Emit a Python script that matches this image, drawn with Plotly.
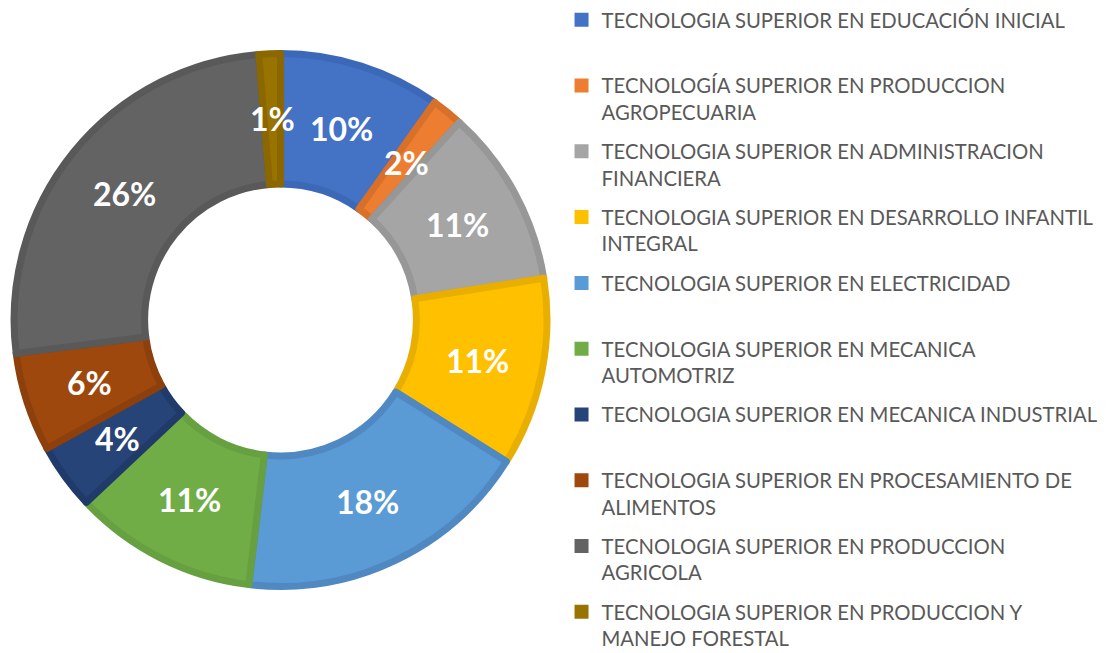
import math
import plotly.graph_objects as go

categories = [
    "TECNOLOGIA SUPERIOR EN EDUCACIÓN INICIAL",
    "TECNOLOGÍA SUPERIOR EN PRODUCCION AGROPECUARIA",
    "TECNOLOGIA SUPERIOR EN ADMINISTRACION FINANCIERA",
    "TECNOLOGIA SUPERIOR EN DESARROLLO INFANTIL INTEGRAL",
    "TECNOLOGIA SUPERIOR EN ELECTRICIDAD",
    "TECNOLOGIA SUPERIOR EN MECANICA AUTOMOTRIZ",
    "TECNOLOGIA SUPERIOR EN MECANICA INDUSTRIAL",
    "TECNOLOGIA SUPERIOR EN PROCESAMIENTO DE ALIMENTOS",
    "TECNOLOGIA SUPERIOR EN PRODUCCION AGRICOLA",
    "TECNOLOGIA SUPERIOR EN PRODUCCION Y MANEJO FORESTAL",
]
legend_names = [
    "TECNOLOGIA SUPERIOR EN EDUCACIÓN INICIAL<br> ",
    "TECNOLOGÍA SUPERIOR EN PRODUCCION<br>AGROPECUARIA",
    "TECNOLOGIA SUPERIOR EN ADMINISTRACION<br>FINANCIERA",
    "TECNOLOGIA SUPERIOR EN DESARROLLO INFANTIL<br>INTEGRAL",
    "TECNOLOGIA SUPERIOR EN ELECTRICIDAD<br> ",
    "TECNOLOGIA SUPERIOR EN MECANICA<br>AUTOMOTRIZ",
    "TECNOLOGIA SUPERIOR EN MECANICA INDUSTRIAL<br> ",
    "TECNOLOGIA SUPERIOR EN PROCESAMIENTO DE<br>ALIMENTOS",
    "TECNOLOGIA SUPERIOR EN PRODUCCION<br>AGRICOLA",
    "TECNOLOGIA SUPERIOR EN PRODUCCION Y<br>MANEJO FORESTAL",
]
shares = [9.8, 1.9, 10.8, 11.4, 18.0, 11.1, 4.0, 6.0, 25.7, 1.3]

fill_colors = ["#4472C4", "#ED7D31", "#A5A5A5", "#FFC000", "#5B9BD5",
               "#70AD47", "#264478", "#9E480E", "#636363", "#997300"]
edge_colors = ["#3C68B8", "#D8702A", "#979797", "#E9AF00", "#5089C2",
               "#66A041", "#203B69", "#8E400C", "#595959", "#8A6700"]

W, H = 1102, 645
HOLE = 0.51
DOM_X = [0.0055, 0.4891]
DOM_Y = [0.1031, 0.9295]

fig = go.Figure()
fig.add_trace(go.Pie(
    labels=categories,
    values=shares,
    sort=False,
    direction="clockwise",
    rotation=0,
    hole=HOLE,
    marker=dict(colors=fill_colors, line=dict(color=edge_colors, width=7)),
    textinfo="none",
    showlegend=False,
    hoverinfo="label+percent",
    domain=dict(x=DOM_X, y=DOM_Y),
))

# percentage labels placed at the middle of the ring, on each slice's mid-angle
cx = (DOM_X[0] + DOM_X[1]) / 2 * W
cy = (DOM_Y[0] + DOM_Y[1]) / 2 * H
radius = min((DOM_X[1] - DOM_X[0]) * W, (DOM_Y[1] - DOM_Y[0]) * H) / 2
r_mid = radius * (1 + HOLE) / 2
total = sum(shares)
cum = 0.0
for s in shares:
    mid = (cum + s / 2) / total * 2 * math.pi
    cum += s
    px = cx + r_mid * math.sin(mid)
    py = cy + r_mid * math.cos(mid)
    fig.add_annotation(
        x=px / W, y=py / H, xref="paper", yref="paper",
        xanchor="center", yanchor="middle",
        text=f"{round(s / total * 100)}%", showarrow=False,
        font=dict(family="Lato", size=32, color="white", weight="bold"),
    )

for name, col in zip(legend_names, fill_colors):
    fig.add_trace(go.Scatter(
        x=[None], y=[None], mode="markers", name=name, legendgroup=name,
        marker=dict(symbol="square", size=14, color=col),
        hoverinfo="skip",
    ))

fig.update_layout(
    width=W, height=H,
    margin=dict(l=0, r=0, t=0, b=0, autoexpand=False),
    paper_bgcolor="white", plot_bgcolor="white",
    xaxis=dict(visible=False), yaxis=dict(visible=False),
    legend=dict(
        x=0.5023, y=1.0123, xanchor="left", yanchor="top",
        valign="top", tracegroupgap=10, maxheight=1000,
        font=dict(family="Lato", size=20.3, color="#595959"),
        bgcolor="rgba(0,0,0,0)",
    ),
)

fig.write_html("out.html")
